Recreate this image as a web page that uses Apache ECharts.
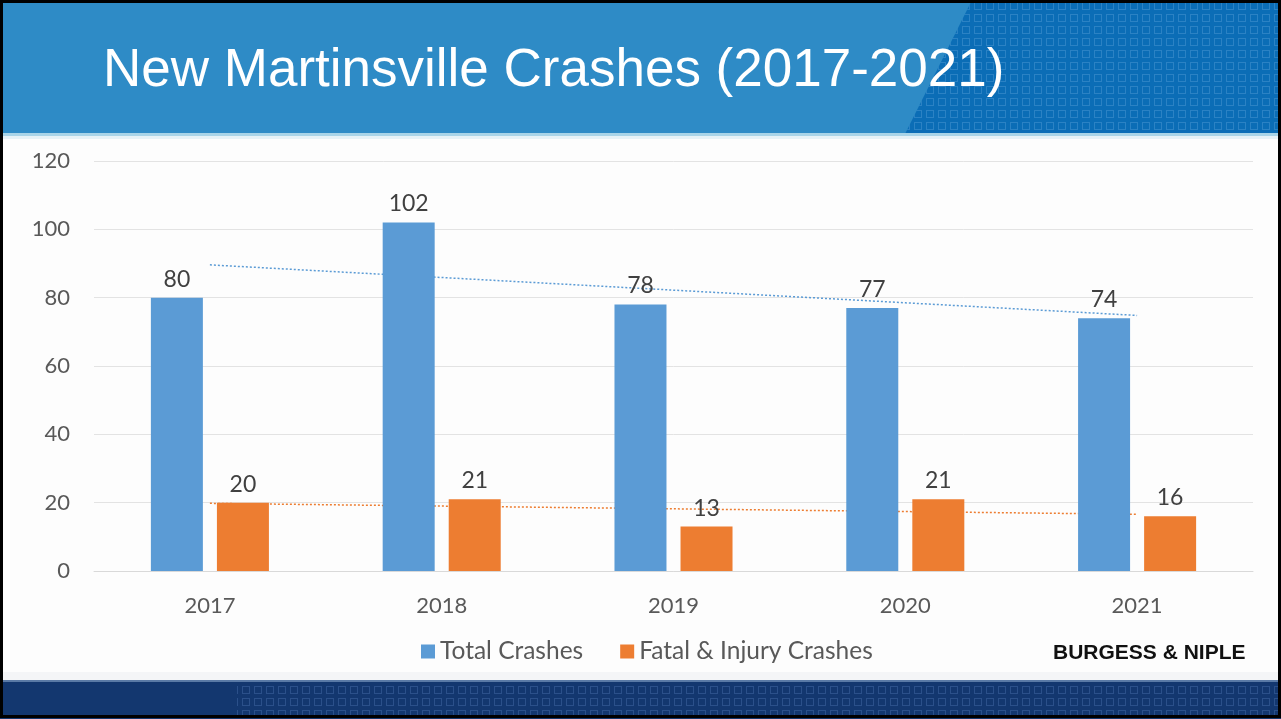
<!DOCTYPE html>
<html>
<head>
<meta charset="utf-8">
<title>New Martinsville Crashes (2017-2021)</title>
<script src="https://cdn.jsdelivr.net/npm/echarts@6/dist/echarts.min.js"></script>
<style>
  html, body { margin: 0; padding: 0; background: #fdfdfd; }
  #chart { width: 1281px; height: 719px; }
</style>
</head>
<body>
<div id="chart"></div>
<script>
// Crash counts by year
const years = ['2017', '2018', '2019', '2020', '2021'];
const totalCrashes = [80, 102, 78, 77, 74];
const fatalInjuryCrashes = [20, 21, 13, 21, 16];
const yTicks = { min: 0, max: 120, interval: 20 };

const BLUE = '#5b9bd5';
const ORANGE = '#ed7d31';
const LABEL_FONT = 'Lato, "Open Sans", sans-serif';

// Least-squares linear trend across the years
function linearTrend(values) {
  const n = values.length;
  const xs = values.map((_, i) => i);
  const mx = xs.reduce((a, b) => a + b, 0) / n;
  const my = values.reduce((a, b) => a + b, 0) / n;
  let num = 0, den = 0;
  xs.forEach((x, i) => { num += (x - mx) * (values[i] - my); den += (x - mx) * (x - mx); });
  const slope = num / den;
  return xs.map(x => +(my + slope * (x - mx)).toFixed(2));
}

// Small square tile used for the header/footer texture
function squareTile(color) {
  const c = document.createElement('canvas');
  c.width = 12; c.height = 12;
  const g = c.getContext('2d');
  g.strokeStyle = color;
  g.lineWidth = 1;
  g.strokeRect(2.5, 2.5, 7, 7);
  return c;
}

const chart = echarts.init(document.getElementById('chart'), null, { renderer: 'canvas' });

const option = {
  backgroundColor: '#fdfdfd',
  animation: false,
  textStyle: { fontFamily: LABEL_FONT },
  grid: { left: 94, right: 28, top: 161, bottom: 148, containLabel: false },
  legend: {
    data: ['Total Crashes', 'Fatal & Injury Crashes'],
    left: 416,
    top: 634,
    icon: 'rect',
    itemWidth: 14,
    itemHeight: 14,
    itemGap: 37,
    textStyle: { fontFamily: LABEL_FONT, fontSize: 24.5, color: '#595959', padding: [0, 0, 0, 0] }
  },
  xAxis: {
    type: 'category',
    data: years,
    axisLine: { lineStyle: { color: '#d9d9d9', width: 1 } },
    axisTick: { show: false },
    axisLabel: { color: '#595959', fontSize: 22, fontFamily: LABEL_FONT, margin: 24 }
  },
  yAxis: {
    type: 'value',
    min: yTicks.min,
    max: yTicks.max,
    interval: yTicks.interval,
    axisLine: { show: false },
    axisTick: { show: false },
    splitLine: { lineStyle: { color: '#e3e3e3', width: 1 } },
    axisLabel: { color: '#595959', fontSize: 22, fontFamily: LABEL_FONT, margin: 24 }
  },
  series: [
    {
      name: 'Total Crashes',
      type: 'bar',
      data: totalCrashes,
      barWidth: 52,
      barGap: '27%',
      z: 3,
      itemStyle: { color: BLUE },
      label: { show: true, position: 'top', distance: 7, color: '#404040', fontSize: 23, fontFamily: LABEL_FONT }
    },
    {
      name: 'Fatal & Injury Crashes',
      type: 'bar',
      data: fatalInjuryCrashes,
      barWidth: 52,
      z: 3,
      itemStyle: { color: ORANGE },
      label: { show: true, position: 'top', distance: 7, color: '#404040', fontSize: 23, fontFamily: LABEL_FONT }
    },
    {
      name: 'Total trend',
      type: 'line',
      data: linearTrend(totalCrashes),
      symbol: 'none',
      silent: true,
      z: 2,
      lineStyle: { color: BLUE, width: 1.5, type: [2, 2] }
    },
    {
      name: 'Fatal & Injury trend',
      type: 'line',
      data: linearTrend(fatalInjuryCrashes),
      symbol: 'none',
      silent: true,
      z: 2,
      lineStyle: { color: ORANGE, width: 1.5, type: [2, 2] }
    }
  ],
  graphic: [
    // header band
    { type: 'rect', z: -10, silent: true, shape: { x: 0, y: 0, width: 1281, height: 134 }, style: { fill: '#2e8bc6' } },
    { type: 'polygon', z: -9, silent: true, shape: { points: [[972, 0], [1281, 0], [1281, 134], [905, 134]] }, style: { fill: '#0b6db6' } },
    { type: 'polygon', z: -8, silent: true, shape: { points: [[972, 0], [1281, 0], [1281, 134], [905, 134]] }, style: { fill: { image: squareTile('rgba(120,180,230,0.3)'), repeat: 'repeat' } } },
    { type: 'rect', z: -8, silent: true, shape: { x: 0, y: 133, width: 1281, height: 3 }, style: { fill: '#a8d4e8' } },
    { type: 'rect', z: -8, silent: true, shape: { x: 0, y: 136, width: 1281, height: 3 }, style: { fill: '#e6f2f7' } },
    {
      type: 'text', z: 10, silent: true, left: 103, top: 45,
      style: { text: 'New Martinsville Crashes (2017-2021)', fill: '#ffffff', font: '53px "Liberation Sans", Arial, sans-serif' }
    },
    // footer band
    { type: 'rect', z: -10, silent: true, shape: { x: 0, y: 672, width: 1281, height: 8 }, style: { fill: '#f4f5f7' } },
    { type: 'rect', z: -10, silent: true, shape: { x: 0, y: 680, width: 1281, height: 39 }, style: { fill: '#13376f' } },
    { type: 'rect', z: -9, silent: true, shape: { x: 237, y: 683, width: 1044, height: 36 }, style: { fill: { image: squareTile('rgba(90,130,190,0.35)'), repeat: 'repeat' } } },
    { type: 'rect', z: -8, silent: true, shape: { x: 0, y: 680, width: 1281, height: 2 }, style: { fill: '#5a7aa6' } },
    {
      type: 'text', z: 10, silent: true, left: 1053, top: 643,
      style: { text: 'BURGESS & NIPLE', fill: '#111111', font: 'bold 21px "Liberation Sans", Arial, sans-serif' }
    },
    // outer frame
    { type: 'rect', z: 20, silent: true, shape: { x: 1.5, y: 1.5, width: 1278, height: 715 }, style: { fill: 'none', stroke: '#000000', lineWidth: 3 } }
  ]
};

chart.setOption(option);
</script>
</body>
</html>
